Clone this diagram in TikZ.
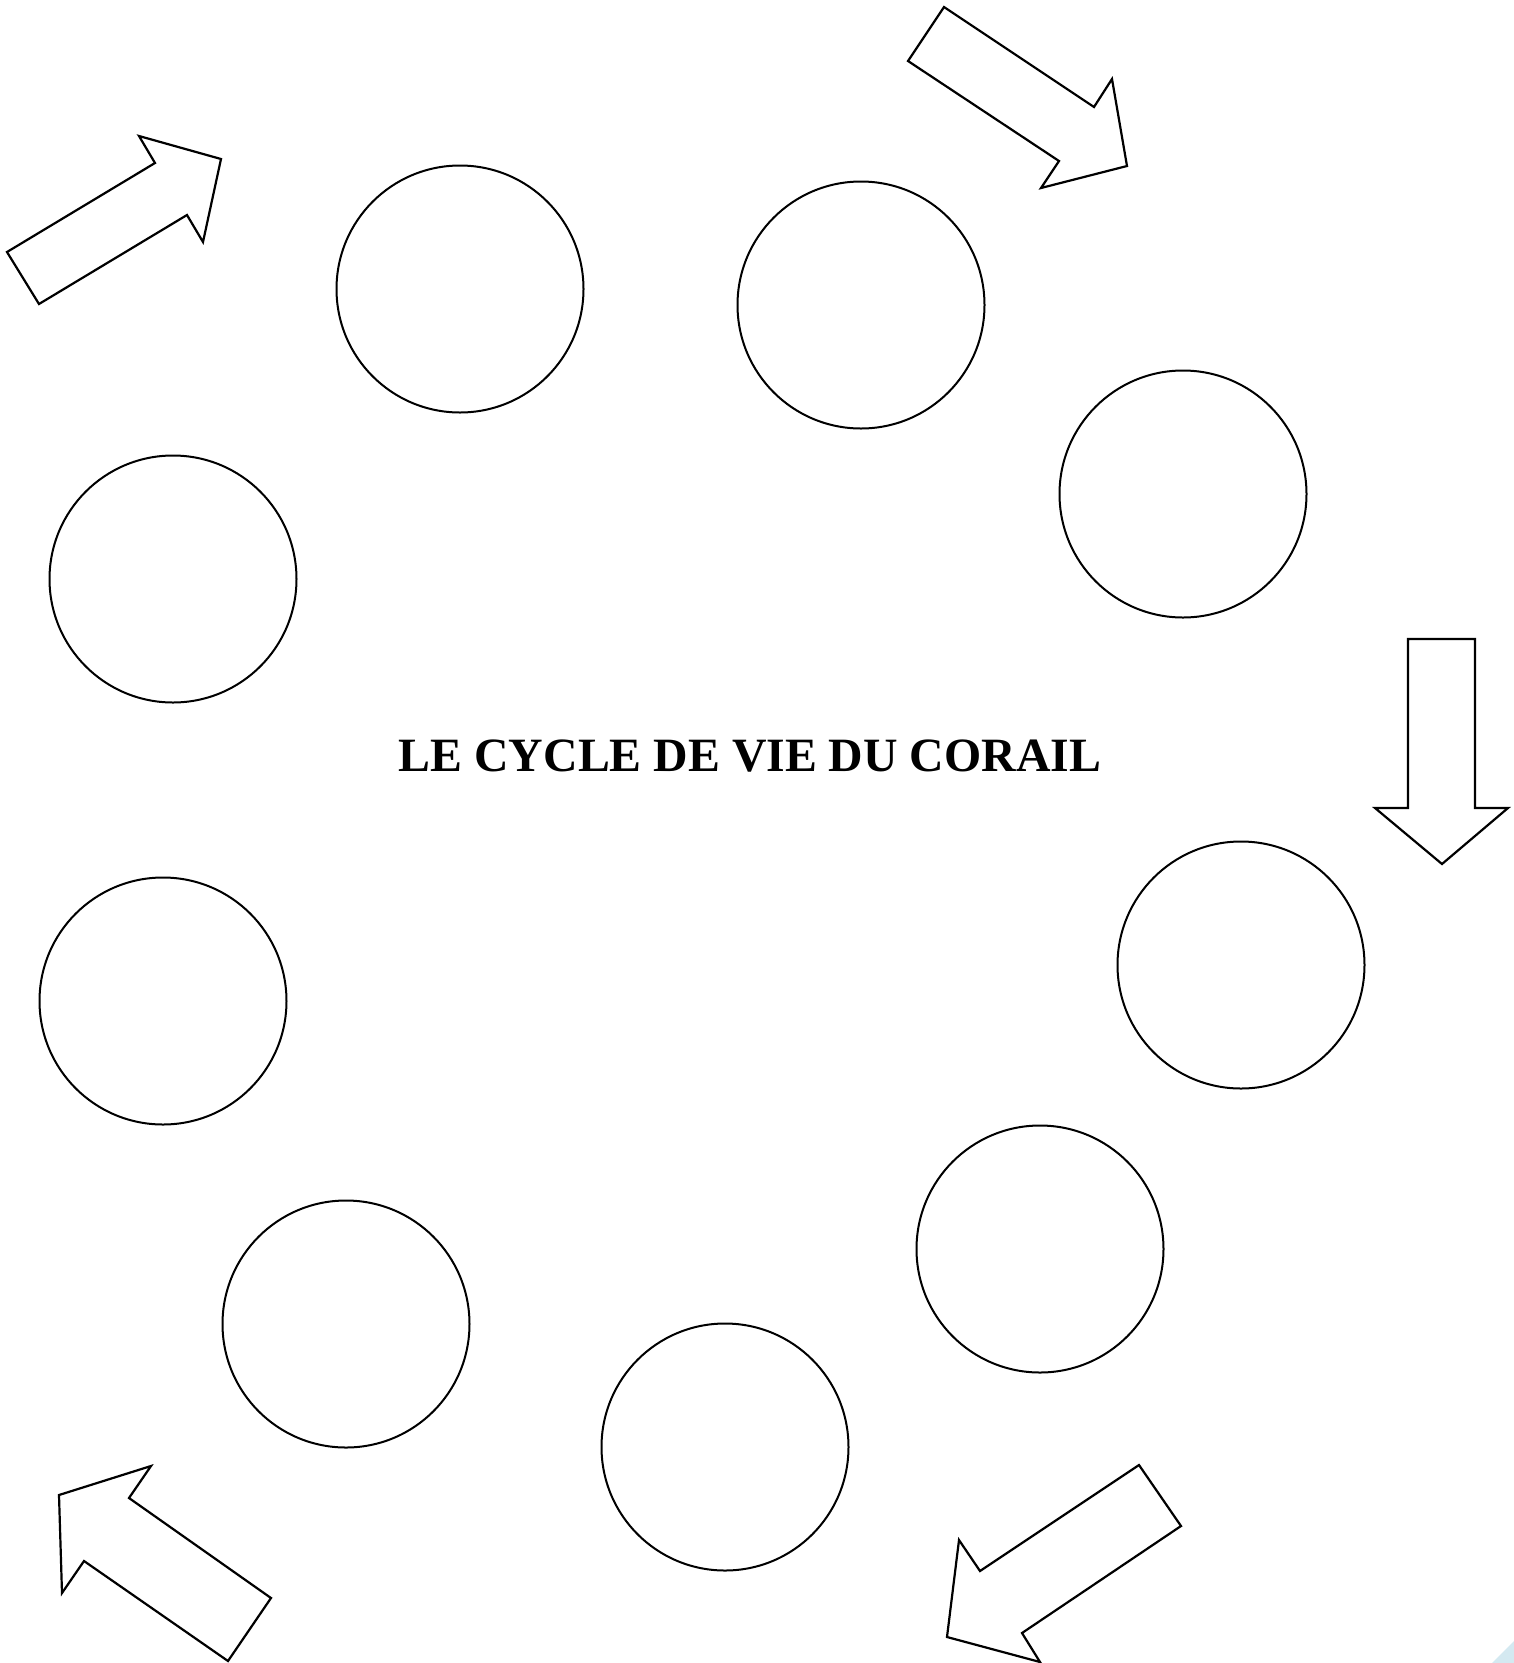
\documentclass[tikz,border=0pt]{standalone}
\usepackage{fontspec}
\setmainfont{Liberation Serif}
\begin{document}
\begin{tikzpicture}[x=1pt,y=-1pt,
  ring/.style={draw=black,line width=2pt,circle,minimum size=247pt,inner sep=0pt},
  bigarrow/.style={draw=black,line width=2.2pt,line join=miter,fill=white},
  title/.style={font=\fontsize{47.8}{57}\selectfont\bfseries,anchor=base,inner sep=0pt}]
\useasboundingbox (0,0) rectangle (1514,1663);
\fill[white] (0,0) rectangle (1514,1663);
% circles
\node[ring] (c1) at (460,289) {};
\node[ring] (c2) at (861,305) {};
\node[ring] (c3) at (1183,494) {};
\node[ring] (c4) at (173,579) {};
\node[ring] (c5) at (1241,965) {};
\node[ring] (c6) at (163,1001) {};
\node[ring] (c7) at (1040,1249) {};
\node[ring] (c8) at (346,1324) {};
\node[ring] (c9) at (725,1447) {};
% title
\node[title] (t) at (750,771) {LE CYCLE DE VIE DU CORAIL};
% arrows
\draw[bigarrow] (7,252) -- (155,163) -- (139,136) -- (221,159) -- (203,242) -- (187,215) -- (39,304) -- cycle;
\draw[bigarrow] (944,7) -- (1094,107) -- (1112,79) -- (1127,166) -- (1041,188) -- (1059,161) -- (908,61) -- cycle;
\draw[bigarrow] (1408,639) -- (1475,639) -- (1475,808) -- (1508,808) -- (1442,864) -- (1375,808) -- (1408,808) -- cycle;
\draw[bigarrow] (271,1598) -- (129,1498) -- (151,1466) -- (59,1495) -- (62,1593) -- (84,1561) -- (228,1661) -- cycle;
\draw[bigarrow] (1139,1465) -- (1181,1526) -- (1022,1633) -- (1040,1662) -- (947,1637) -- (959,1540) -- (980,1571) -- cycle;
% corner mark
\fill[fill={rgb,255:red,212;green,233;blue,241}] (1492,1663) -- (1514,1641) -- (1514,1663) -- cycle;
\end{tikzpicture}
\end{document}
